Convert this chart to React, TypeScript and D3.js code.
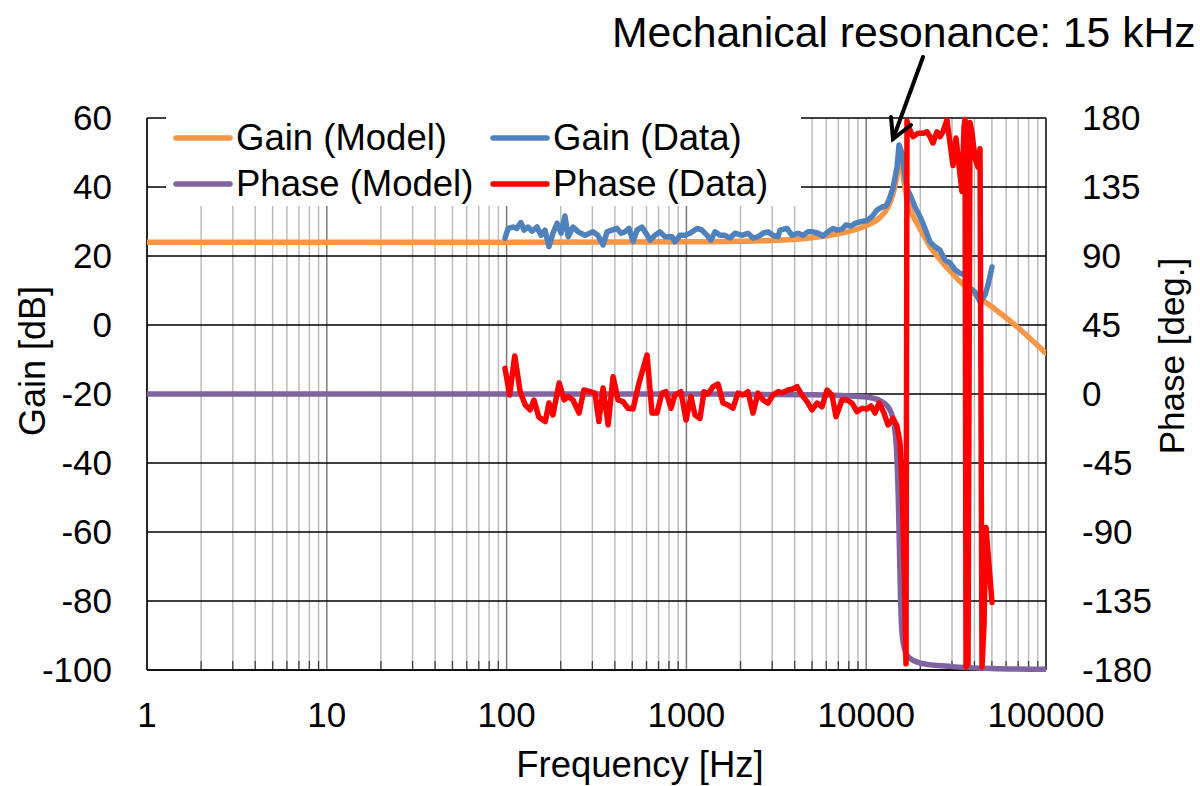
import React from 'react';
import * as d3 from 'd3';

// ---------- data ----------
const FREQ_TICKS = [1, 10, 100, 1000, 10000, 100000];
const GAIN_TICKS = [-100, -80, -60, -40, -20, 0, 20, 40, 60];
const PHASE_TICKS = [-180, -135, -90, -45, 0, 45, 90, 135, 180];

// [frequency Hz, gain dB]
const gainModel: [number, number][] = [
  [1, 24], [100, 24], [1000, 24.1], [3000, 24.5], [5000, 25.3], [7000, 26.4], [10000, 28.8],
  [12000, 31.3], [13000, 33.5], [14000, 37.5], [14600, 41.5], [15000, 45], [15300, 48.5],
  [15500, 49], [15700, 47.5], [16000, 44], [16500, 39], [17500, 33.8], [19000, 29.8],
  [20000, 27.8], [22600, 22.8], [25000, 19.8], [30000, 15], [35000, 11.5], [40000, 9],
  [50000, 5.3], [70000, -0.8], [100000, -8.2],
];

// [frequency Hz, phase deg]
const phaseModel: [number, number][] = [
  [1, 0], [1000, 0], [5000, -0.5], [10000, -2], [12000, -4.5], [13500, -10], [14300, -20],
  [14800, -40], [15100, -70], [15300, -100], [15500, -130], [15800, -155], [16300, -166],
  [17000, -171], [20000, -175.5], [30000, -177.8], [50000, -179], [100000, -179.5],
];

const gainData: [number, number][] = [
  [98, 25.2], [102, 28], [108.5, 28.4], [114, 28], [120, 29.7], [125, 27.5], [131.5, 28.4],
  [138.5, 27.2], [147.6, 28.4], [155.4, 26], [163.5, 27.5], [172, 22.7], [181, 26.6],
  [191, 29.5], [201, 26.6], [211, 31.6], [220, 25.6], [234, 28.4], [250, 27], [273, 26],
  [302, 27], [322, 26], [344, 23.2], [362, 27], [386, 27.5], [411, 28], [433, 26.6],
  [455, 27], [480, 28], [505, 24.2], [531, 27.5], [566, 28.4], [596, 26.6], [628, 24.6],
  [669, 26], [713, 27], [760, 25.6], [832, 25.6], [864, 24.1], [921, 26], [982, 26],
  [1047, 26.6], [1146, 28], [1221, 27.5], [1302, 26], [1370, 24.6], [1442, 27], [1538, 26],
  [1639, 26], [1748, 25.2], [1864, 26.6], [2038, 26], [2200, 26.6], [2346, 25.2],
  [2501, 25.6], [2667, 26.6], [2843, 27], [3031, 26], [3232, 25.6], [3316, 27.5],
  [3627, 28], [3867, 26], [4176, 26.6], [4452, 26], [4747, 27], [5060, 27], [5395, 26.6],
  [5752, 25.8], [6132, 27], [6539, 28], [6881, 27.5], [7336, 27.8], [7722, 29],
  [8232, 28.7], [8776, 29.6], [9477, 30], [10100, 30.3], [10770, 31.4], [11480, 33.3],
  [12240, 34.2], [12880, 34.5], [13390, 36.2], [14090, 39.7], [14840, 45.8], [15220, 52.2],
  [15820, 49.8], [16230, 45], [16860, 39.7], [17750, 37.1], [18680, 34.2], [19920, 31.4],
  [21230, 28], [22640, 24.1], [24130, 22.7], [25730, 21.7], [27440, 18.8], [29260, 18],
  [31190, 16], [33250, 15], [35440, 14.5], [37790, 10.7], [40290, 9.6], [42960, 6.7],
  [45790, 8.7], [47590, 11.6], [50080, 16.8],
];

const phaseData: [number, number][] = [
  [98, 16.7], [104, -0.7], [111, 24.8], [119, 1.5], [127, -7.2], [135, -10.4], [142, -3.9],
  [151, -15], [164, -18], [172, -5.9], [181, -13.7], [196, 7.2], [209, -3.9], [220, -1.7],
  [234, -3.9], [253, -12.4], [269, 2.6], [291, 1.5], [310, 0.6], [326, -18], [344, 3.9],
  [367, -20.2], [391, 11.3], [417, -3.9], [444, -5], [473, -9.3], [505, -9.8], [545, 7.2],
  [604, 25.4], [644, -12.4], [686, -12.4], [731, 0.6], [770, 1.5], [821, -9.3], [864, -0.7],
  [933, 1.5], [995, -17], [1060, -1.7], [1116, -13.7], [1190, -15.9], [1253, 1.5],
  [1319, 0], [1406, 4.8], [1499, 6.5], [1598, -5.9], [1703, -7.2], [1816, -9.3],
  [1936, 0.6], [2064, -0.7], [2200, 1.5], [2346, -12.4], [2501, 0.6], [2667, -3.9],
  [2843, -5.9], [3031, -0.7], [3232, 1.5], [3445, 0.9], [3673, 2.6], [3916, 3.3],
  [4122, 4.8], [4395, -0.7], [4686, -5], [4995, -10.4], [5326, -5.9], [5678, -8.3],
  [6053, 2.6], [6454, -0.7], [6793, -14.8], [7334, -3.9], [7819, -3.9], [8337, -5.9],
  [8888, -11.5], [9476, -9.3], [10100, -9.8], [10630, -7.8], [11190, -12.4], [11780, -5.9],
  [12560, -12.4], [13220, -20.2], [14090, -15.9], [14840, -21], [15420, -32], [15820, -60],
  [16230, -110], [16650, -176], [16860, 178], [17520, 172], [18210, 167.8], [19410, 170],
  [20700, 170], [21780, 171], [22640, 167.8], [23520, 163.7], [24760, 171], [25730, 167.8],
  [26740, 171], [28130, 178.7], [29250, 163.7], [30390, 149], [31580, 167], [32820, 149],
  [34110, 132], [34990, 174], [35440, 179], [35910, -178], [36840, -176], [37790, 177],
  [38770, 170], [40290, 154], [41860, 148], [42960, 160], [44070, -178], [45210, -150],
  [46380, -87], [50070, -136],
];

const SERIES = [
  { name: 'Gain (Model)', color: '#F79646' },
  { name: 'Gain (Data)', color: '#4F81BD' },
  { name: 'Phase (Model)', color: '#8064A2' },
  { name: 'Phase (Data)', color: '#FF0000' },
];

const FONT = '"Liberation Sans", Arial, sans-serif';

export default function App() {
  const L = 147, R = 1046, T = 118, B = 670;
  const x = d3.scaleLog().domain([1, 100000]).range([L, R]);
  const yG = d3.scaleLinear().domain([-100, 60]).range([B, T]);
  const yP = d3.scaleLinear().domain([-180, 180]).range([B, T]);

  const gLine = d3.line<[number, number]>().x(d => x(d[0])).y(d => yG(d[1]));
  const pLine = d3.line<[number, number]>().x(d => x(d[0])).y(d => yP(d[1]));
  const gSmooth = d3.line<[number, number]>().x(d => x(d[0])).y(d => yG(d[1])).curve(d3.curveMonotoneX);
  const pSmooth = d3.line<[number, number]>().x(d => x(d[0])).y(d => yP(d[1])).curve(d3.curveMonotoneX);

  const minor: number[] = [];
  const major: number[] = [];
  for (let e = 0; e < 5; e++) {
    const base = Math.pow(10, e);
    major.push(base);
    for (let k = 2; k <= 9; k++) minor.push(k * base);
  }

  const legendCols = [176, 493];
  const legendRows = [138, 184];

  return (
    <svg width={1200} height={786} style={{ position: 'absolute', left: 0, top: 0, background: '#fff' }}
      fontFamily={FONT}>
      <defs>
        <clipPath id="plot">
          <rect x={L} y={T - 3} width={R - L} height={B - T + 6} />
        </clipPath>
      </defs>
      <rect x={0} y={0} width={1200} height={786} fill="#fff" />

      {/* vertical grid */}
      {minor.map(f => (
        <line key={'mn' + f} x1={x(f)} x2={x(f)} y1={T} y2={B} stroke="#bcbcbc" strokeWidth={1.5} />
      ))}
      {major.map(f => (
        <line key={'mj' + f} x1={x(f)} x2={x(f)} y1={T} y2={B} stroke="#7a7a7a" strokeWidth={1.5} />
      ))}
      {minor.map(f => (
        <line key={'tk' + f} x1={x(f)} x2={x(f)} y1={B - 9} y2={B} stroke="#404040" strokeWidth={1.3} />
      ))}
      {/* horizontal grid */}
      {GAIN_TICKS.map(g => (
        <line key={'hg' + g} x1={L} x2={R} y1={yG(g)} y2={yG(g)} stroke="#000" strokeWidth={1.3} />
      ))}
      {/* axes */}
      <line x1={L} x2={L} y1={T} y2={B} stroke="#000" strokeWidth={1.5} />
      <line x1={R} x2={R} y1={T} y2={B} stroke="#000" strokeWidth={1.5} />
      <line x1={L} x2={R} y1={B} y2={B} stroke="#000" strokeWidth={1.5} />

      {/* legend box */}
      <rect x={166} y={108} width={635} height={98} fill="#fff" />

      {/* series */}
      <g clipPath="url(#plot)" fill="none" strokeLinejoin="round" strokeLinecap="round" strokeWidth={5.5}>
        <path d={gSmooth(gainModel) || ''} stroke={SERIES[0].color} />
        <path d={gLine(gainData) || ''} stroke={SERIES[1].color} />
        <path d={pSmooth(phaseModel) || ''} stroke={SERIES[2].color} />
        <path d={pLine(phaseData) || ''} stroke={SERIES[3].color} />
      </g>

      {/* legend */}
      {SERIES.map((s, i) => {
        const cx = legendCols[i % 2];
        const cy = legendRows[Math.floor(i / 2)];
        return (
          <g key={s.name}>
            <line x1={cx} x2={cx + 54} y1={cy} y2={cy} stroke={s.color} strokeWidth={5.5} strokeLinecap="round" />
            <text x={cx + 60} y={cy + 12} fontSize={36.5} fill="#000">{s.name}</text>
          </g>
        );
      })}

      {/* tick labels */}
      {GAIN_TICKS.map(g => (
        <text key={'gl' + g} x={112} y={yG(g) + 12} fontSize={35} textAnchor="end" fill="#000">{g}</text>
      ))}
      {PHASE_TICKS.map(p => (
        <text key={'pl' + p} x={1082} y={yP(p) + 12} fontSize={35} textAnchor="start" fill="#000">{p}</text>
      ))}
      {FREQ_TICKS.map(f => (
        <text key={'fl' + f} x={x(f)} y={727} fontSize={35} textAnchor="middle" fill="#000">{f}</text>
      ))}

      {/* axis titles */}
      <text transform="translate(45,361) rotate(-90)" fontSize={36} textAnchor="middle" fill="#000">Gain [dB]</text>
      <text transform="translate(1184,356) rotate(-90)" fontSize={35} textAnchor="middle" fill="#000">Phase [deg.]</text>
      <text x={640} y={777} fontSize={36.5} textAnchor="middle" fill="#000">Frequency [Hz]</text>

      {/* annotation */}
      <text x={612} y={47} fontSize={42.7} fill="#000">Mechanical resonance: 15 kHz</text>
      <g stroke="#000" strokeWidth={4} strokeLinecap="round" fill="none">
        <line x1={923} x2={893} y1={57} y2={139} />
        <polyline points="891,117 893,139 911,125" />
      </g>
    </svg>
  );
}
